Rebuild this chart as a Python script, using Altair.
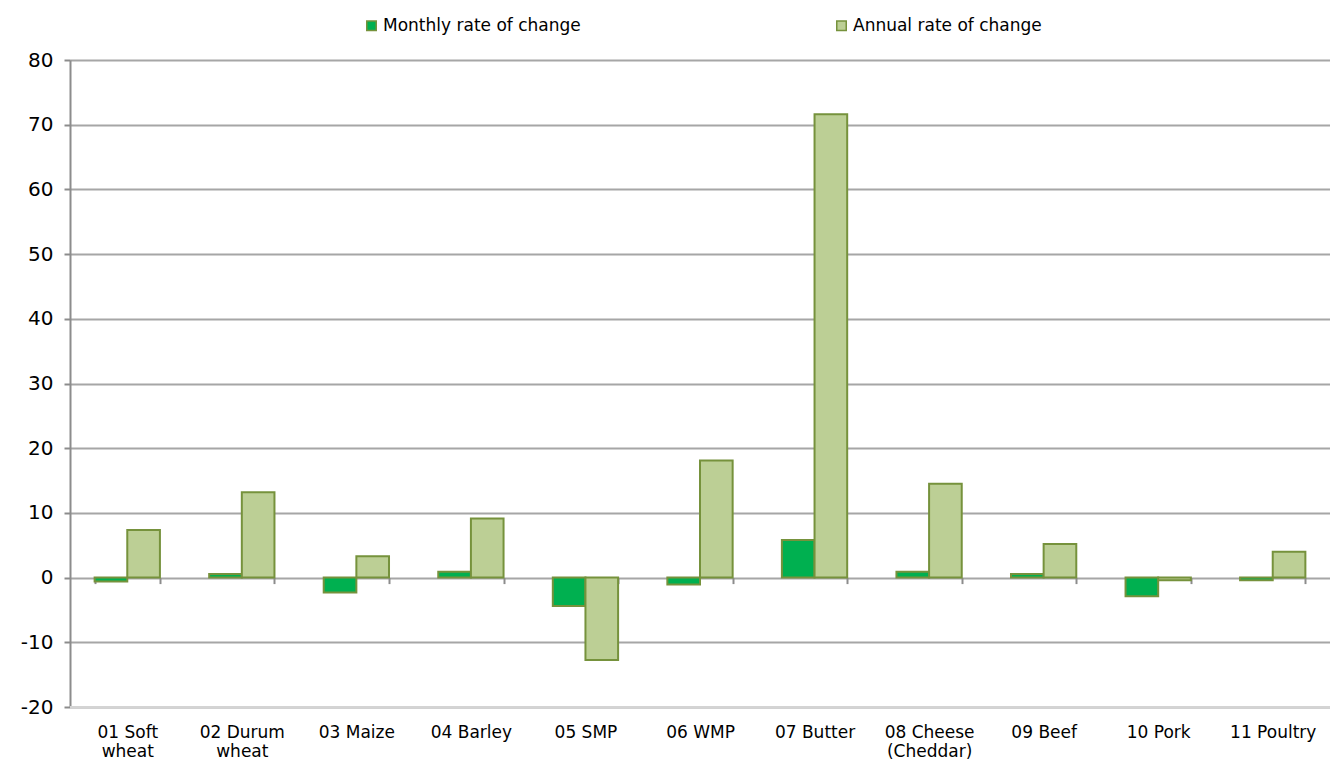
import altair as alt
import pandas as pd

categories = ["01 Soft wheat", "02 Durum wheat", "03 Maize", "04 Barley", "05 SMP",
              "06 WMP", "07 Butter", "08 Cheese (Cheddar)", "09 Beef", "10 Pork", "11 Poultry"]
monthly = [-0.6, 0.55, -2.3, 0.9, -4.4, -1.05, 5.8, 0.9, 0.55, -2.9, -0.4]
annual = [7.35, 13.2, 3.3, 9.15, -12.75, 18.1, 71.6, 14.5, 5.2, -0.4, 4.0]
series = ["Monthly rate of change", "Annual rate of change"]
colors = ["#00B050", "#BCCF95"]
label_lines = {
    "01 Soft wheat": ["01 Soft", "wheat"],
    "02 Durum wheat": ["02 Durum", "wheat"],
    "08 Cheese (Cheddar)": ["08 Cheese", "(Cheddar)"],
}
y_ticks = [-20, -10, 0, 10, 20, 30, 40, 50, 60, 70, 80]

rows = []
for c, m, a in zip(categories, monthly, annual):
    rows.append({"category": c, "series": series[0], "value": m})
    rows.append({"category": c, "series": series[1], "value": a})
df = pd.DataFrame(rows)

expr = "datum.label"
for k, v in reversed(list(label_lines.items())):
    expr = "datum.label == '%s' ? ['%s', '%s'] : (%s)" % (k, v[0], v[1], expr)

W, H = 1260, 647
FONT = "DejaVu Sans"

bars = alt.Chart(df).mark_bar(stroke="#76923C", strokeWidth=2).encode(
    x=alt.X("category:N", sort=categories, title=None,
            scale=alt.Scale(paddingInner=0.43, paddingOuter=0.215),
            axis=alt.Axis(offset=-H * 20 / 100, labelAngle=0, labelExpr=expr,
                          labelPadding=141, labelFontSize=17, labelFont=FONT,
                          labelColor="#000000", labelLineHeight=19, labelBaseline="top",
                          tickBand="extent", tickSize=6, tickWidth=2, tickColor="#8C8C8C",
                          domain=False, grid=False)),
    xOffset=alt.XOffset("series:N", sort=series, scale=alt.Scale(paddingInner=0, paddingOuter=0)),
    y=alt.Y("value:Q", title=None,
            scale=alt.Scale(domain=[-20, 80], nice=False),
            axis=alt.Axis(values=y_ticks, labelExpr="'' + datum.value",
                          labelFontSize=20, labelFont=FONT,
                          labelColor="#000000", labelPadding=11, tickSize=6,
                          tickColor="#8C8C8C", tickWidth=2, domainColor="#8C8C8C",
                          domainWidth=2, gridColor="#A6A6A6", gridWidth=2)),
    color=alt.Color("series:N", sort=series,
                    scale=alt.Scale(domain=series, range=colors),
                    legend=alt.Legend(title=None, orient="none", legendX=293, legendY=-43,
                                      direction="horizontal", columns=2, columnPadding=252,
                                      symbolType="square", symbolSize=90,
                                      symbolStrokeColor="#76923C", symbolStrokeWidth=1.5,
                                      labelFontSize=17, labelFont=FONT, labelColor="#000000",
                                      labelOffset=3, labelLimit=0, padding=0)),
)

bottom = alt.Chart(pd.DataFrame({"v": [y_ticks[0]]})).mark_rule(
    color="#D4D4D4", strokeWidth=2
).encode(y=alt.Y("v:Q"))

chart = alt.layer(bottom, bars).properties(
    width=W, height=H,
    autosize=alt.AutoSizeParams(type="none"),
    padding={"left": 62, "top": 52, "right": 0, "bottom": 56},
).configure_view(
    fill="#EFF2E8", stroke=None
).configure(background="#FFFFFF")

chart.save("out.html", embed_options={"renderer": "svg", "actions": False})
